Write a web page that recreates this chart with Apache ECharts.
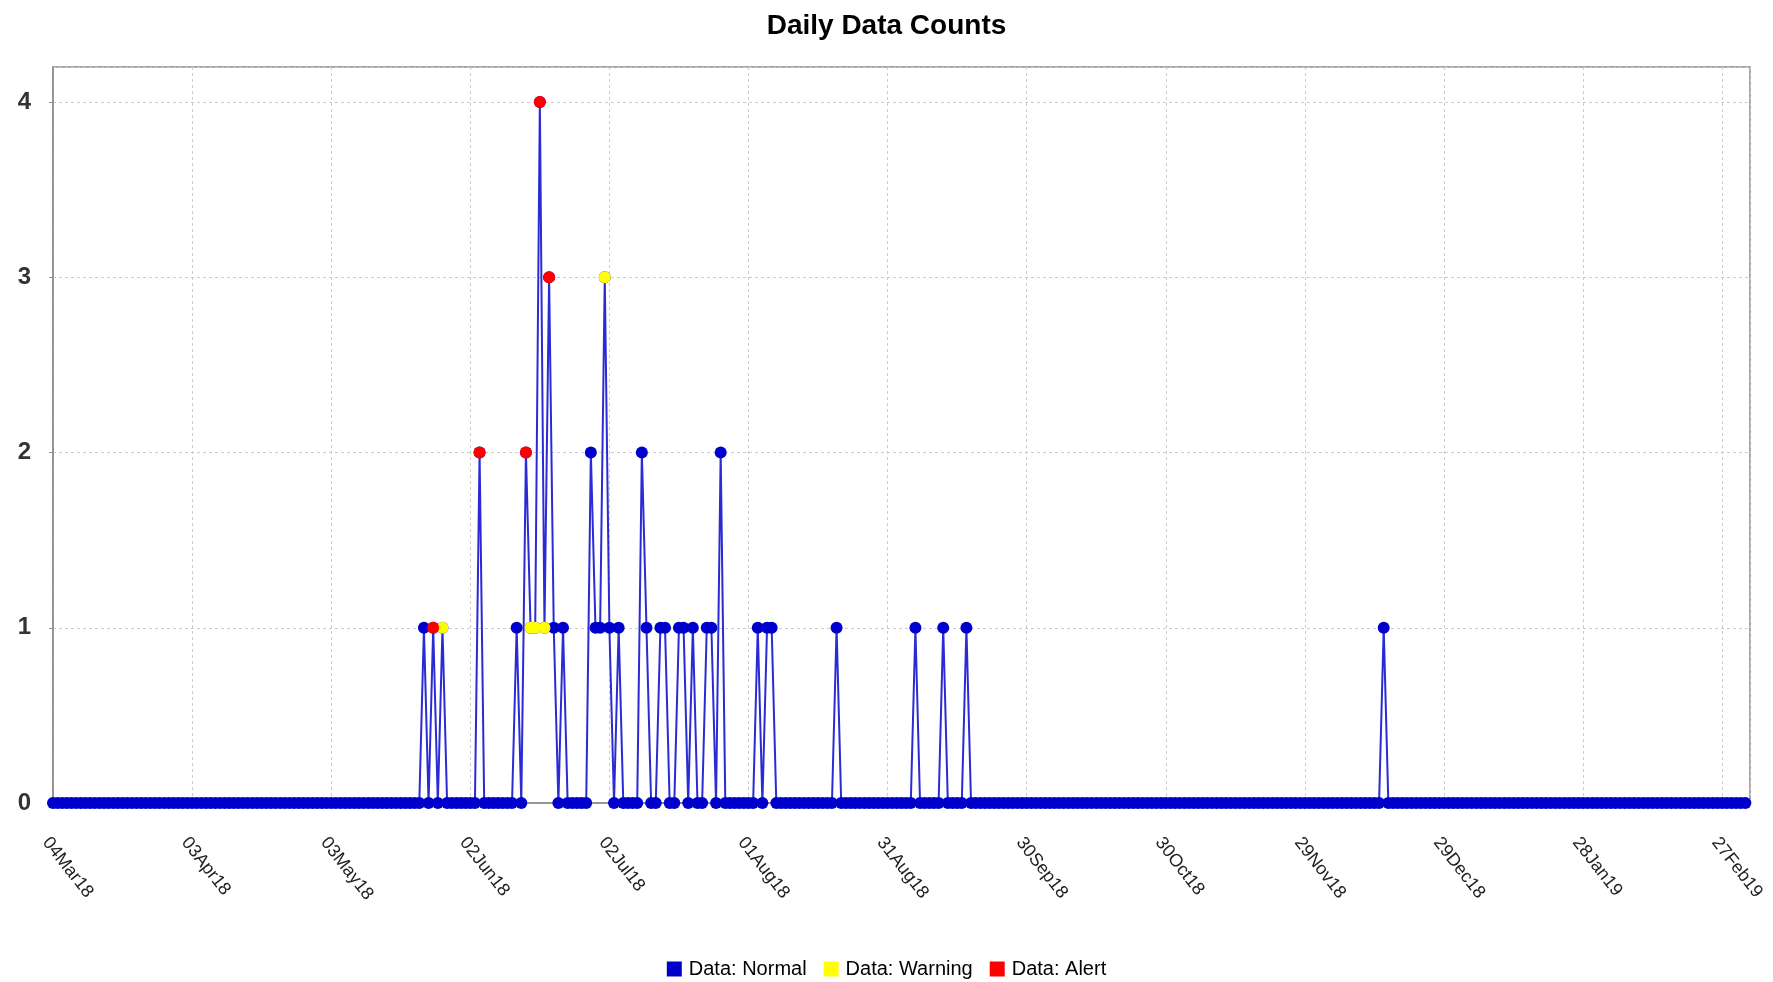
<!DOCTYPE html>
<html>
<head>
<meta charset="utf-8">
<title>Daily Data Counts</title>
<script src="https://cdn.jsdelivr.net/npm/echarts@6/dist/echarts.min.js"></script>
<style>
  html, body { margin: 0; padding: 0; background: #fff; }
  #chart { width: 1773px; height: 982px; }
</style>
</head>
<body>
<div id="chart"></div>
<script>
// first day of the daily series and how many days are drawn
var startDate = '2018-03-04';
var dayCount = 366;

// days with a non-zero count, every other day is 0
var eventDates = [
  '2018-05-23', '2018-05-25', '2018-05-27', '2018-06-04', '2018-06-12',
  '2018-06-14', '2018-06-15', '2018-06-16', '2018-06-17', '2018-06-18',
  '2018-06-19', '2018-06-20', '2018-06-22', '2018-06-28', '2018-06-29',
  '2018-06-30', '2018-07-01', '2018-07-02', '2018-07-04', '2018-07-09',
  '2018-07-10', '2018-07-13', '2018-07-14', '2018-07-17', '2018-07-18',
  '2018-07-20', '2018-07-23', '2018-07-24', '2018-07-26', '2018-08-03',
  '2018-08-05', '2018-08-06', '2018-08-20', '2018-09-06', '2018-09-12',
  '2018-09-17', '2018-12-16'
];
var eventCounts = [
  1, 1, 1, 2, 1,
  2, 1, 1, 4, 1,
  3, 1, 1, 2, 1,
  1, 3, 1, 1, 2,
  1, 1, 1, 1, 1,
  1, 1, 1, 2, 1,
  1, 1, 1, 1, 1,
  1, 1
];
// N = normal, W = warning, A = alert
var eventStatus = [
  'N', 'A', 'W', 'A', 'N',
  'A', 'W', 'W', 'A', 'W',
  'A', 'N', 'N', 'N', 'N',
  'N', 'W', 'N', 'N', 'N',
  'N', 'N', 'N', 'N', 'N',
  'N', 'N', 'N', 'N', 'N',
  'N', 'N', 'N', 'N', 'N',
  'N', 'N'
];

var yTicks = [0, 1, 2, 3, 4];
var tickDays = 30;
var monthNames = ['Jan', 'Feb', 'Mar', 'Apr', 'May', 'Jun', 'Jul', 'Aug', 'Sep', 'Oct', 'Nov', 'Dec'];

var DAY = 86400000;
var t0 = Date.parse(startDate + 'T00:00:00Z');

function dayIndex(s) {
  return Math.round((Date.parse(s + 'T00:00:00Z') - t0) / DAY);
}
function dayLabel(v) {
  if (v % tickDays !== 0) return '';
  var d = new Date(t0 + v * DAY);
  var dd = ('0' + d.getUTCDate()).slice(-2);
  var yy = ('' + d.getUTCFullYear()).slice(-2);
  return dd + monthNames[d.getUTCMonth()] + yy;
}

// daily counts
var daily = [];
for (var i = 0; i < dayCount; i++) daily.push([i, 0]);
var warnPts = [], alertPts = [];
eventDates.forEach(function (s, k) {
  var idx = dayIndex(s);
  daily[idx][1] = eventCounts[k];
  if (eventStatus[k] === 'W') warnPts.push([idx, eventCounts[k]]);
  if (eventStatus[k] === 'A') alertPts.push([idx, eventCounts[k]]);
});

var gridDash = { color: '#cccccc', width: 1, type: [3, 3] };
var axisGray = '#8c8c8c';
var dotSize = 12;

var myChart = echarts.init(document.getElementById('chart'));
myChart.setOption({
  animation: false,
  backgroundColor: '#ffffff',
  title: {
    text: 'Daily Data Counts',
    left: 'center',
    top: 7,
    textStyle: { fontFamily: 'Liberation Sans', fontSize: 28, fontWeight: 'bold', color: '#000' }
  },
  legend: {
    top: 954,
    left: 'center',
    icon: 'rect',
    itemWidth: 15,
    itemHeight: 15,
    itemGap: 17,
    textStyle: { fontFamily: 'Liberation Sans', fontSize: 20, color: '#000', padding: [0, 0, 0, 2] },
    data: ['Data: Normal', 'Data: Warning', 'Data: Alert']
  },
  grid: {
    left: 53,
    right: 23,
    top: 67,
    bottom: 179,
    show: true,
    borderColor: axisGray,
    borderWidth: 1.5,
    backgroundColor: '#ffffff'
  },
  xAxis: {
    type: 'value',
    min: 0,
    max: dayCount,
    interval: tickDays,
    offset: 15,
    axisLine: { show: true, lineStyle: { color: axisGray, width: 1.5 } },
    axisTick: { show: true, length: 4, lineStyle: { color: axisGray } },
    splitLine: { show: true, lineStyle: gridDash },
    axisLabel: {
      rotate: -52,
      margin: 16,
      align: 'left',
      verticalAlign: 'top',
      showMaxLabel: false,
      fontFamily: 'Liberation Sans',
      fontSize: 18,
      color: '#222',
      formatter: dayLabel
    }
  },
  yAxis: {
    type: 'value',
    min: yTicks[0],
    max: 4.2,
    interval: 1,
    offset: 10,
    axisLine: { show: true, lineStyle: { color: axisGray, width: 1.5 } },
    axisTick: { show: true, length: 4, lineStyle: { color: axisGray } },
    splitLine: { show: true, lineStyle: gridDash },
    axisLabel: {
      margin: 12,
      showMaxLabel: false,
      fontFamily: 'Liberation Sans',
      fontWeight: 'bold',
      fontSize: 24,
      color: '#333',
      formatter: function (v) { return yTicks.indexOf(v) >= 0 ? String(v) : ''; }
    }
  },
  series: [
    {
      name: 'Data: Normal',
      type: 'line',
      data: daily,
      showSymbol: true,
      showAllSymbol: true,
      symbol: 'circle',
      symbolSize: dotSize,
      clip: false,
      itemStyle: { color: '#0000cc' },
      lineStyle: { color: '#2b2bd6', width: 2 },
      z: 2
    },
    {
      name: 'Data: Warning',
      type: 'scatter',
      data: warnPts,
      symbol: 'circle',
      symbolSize: dotSize,
      itemStyle: { color: '#ffff00', opacity: 1 },
      z: 3
    },
    {
      name: 'Data: Alert',
      type: 'scatter',
      data: alertPts,
      symbol: 'circle',
      symbolSize: dotSize,
      itemStyle: { color: '#ff0000', opacity: 1 },
      z: 4
    }
  ]
});
</script>
</body>
</html>
